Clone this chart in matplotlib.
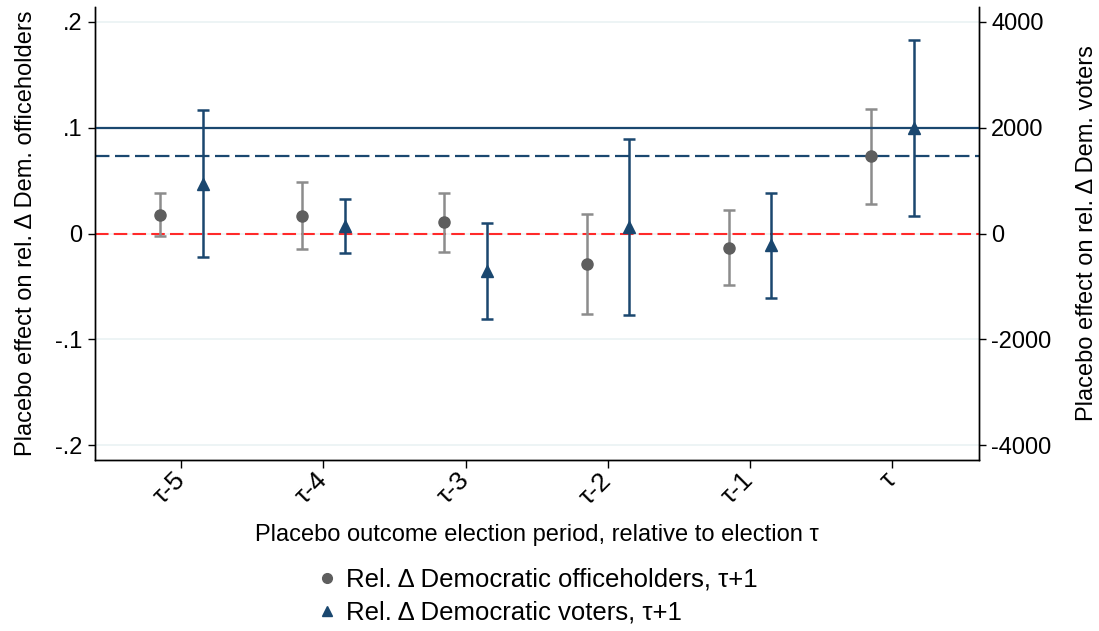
import matplotlib
matplotlib.use("Agg")
import matplotlib.pyplot as plt
from matplotlib.lines import Line2D

plt.rcParams['font.family'] = ['Liberation Sans', 'DejaVu Sans']

categories = ["τ-5", "τ-4", "τ-3", "τ-2", "τ-1", "τ"]
# officeholders (left axis)
off_est = [0.0176, 0.0170, 0.0107, -0.0290, -0.0135, 0.0733]
off_lo = [-0.0020, -0.0151, -0.0173, -0.0761, -0.0487, 0.0283]
off_hi = [0.0380, 0.0488, 0.0387, 0.0182, 0.0224, 0.1179]
# voters (right axis)
vot_est = [940, 150, -700, 119, -226, 2000]
vot_lo = [-453, -377, -1610, -1534, -1213, 326]
vot_hi = [2334, 660, 194, 1787, 768, 3655]

left_ticks = [-0.2, -0.1, 0, 0.1, 0.2]
left_labels = ["-.2", "-.1", "0", ".1", ".2"]
right_ticks = [-4000, -2000, 0, 2000, 4000]

NAVY = "#1a476f"
GRAY_CI = "#8c8c8c"
GRAY_PT = "#5e5e5e"
RED = "#ff2a2a"
GRID = "#eaf2f3"

FS = 17

fig = plt.figure(figsize=(10.99, 6.31), dpi=100)
ax = fig.add_axes([95/1099, 1-460/631, (978.5-95)/1099, (460-7)/631])
ax2 = ax.twinx()

x = list(range(1, len(categories)+1))
off = 0.15
xo = [v - off for v in x]
xv = [v + off for v in x]

ylim = 0.214
ax.set_ylim(-ylim, ylim)
ax2.set_ylim(-ylim*20000, ylim*20000)
ax.set_xlim(0.394, 6.606)

# grid
for t in left_ticks:
    ax.axhline(t, color=GRID, lw=1.2, zorder=0)

# reference lines
ax.axhline(0, color=RED, lw=1.5, ls=(0, (6.5, 2.5)), zorder=1)
ax.axhline(off_est[-1], color=NAVY, lw=1.6, ls=(0, (6.5, 2.5)), zorder=1)
ax2.axhline(vot_est[-1], color=NAVY, lw=1.6, zorder=1)

# officeholders
yerr_o = [[e - l for e, l in zip(off_est, off_lo)], [h - e for e, h in zip(off_est, off_hi)]]
ax.errorbar(xo, off_est, yerr=yerr_o, fmt='none', ecolor=GRAY_CI, elinewidth=1.8,
            capsize=4, capthick=1.8, zorder=2)
ax.plot(xo, off_est, 'o', color=GRAY_PT, ms=8, zorder=3)

# voters
yerr_v = [[e - l for e, l in zip(vot_est, vot_lo)], [h - e for e, h in zip(vot_est, vot_hi)]]
ax2.errorbar(xv, vot_est, yerr=yerr_v, fmt='none', ecolor=NAVY, elinewidth=1.8,
             capsize=4, capthick=1.8, zorder=2)
ax2.plot(xv, vot_est, '^', color=NAVY, ms=9, zorder=3)

# axes styling
for a in (ax, ax2):
    a.spines['top'].set_visible(False)
    for s in ('left', 'right', 'bottom'):
        a.spines[s].set_linewidth(1.0)
        a.spines[s].set_color("#000000")

ax.set_yticks(left_ticks)
ax.set_yticklabels(left_labels)
ax2.set_yticks(right_ticks)
ax2.set_yticklabels([str(t) for t in right_ticks])
ax.set_xticks(x)
ax.set_xticklabels(categories, rotation=45, ha='right', va='center', rotation_mode='anchor')

ax.tick_params(axis='y', direction='out', length=5, width=1, labelsize=FS, pad=4)
ax2.tick_params(axis='y', direction='out', length=5, width=1, labelsize=FS, pad=4)
ax.tick_params(axis='x', direction='out', length=6, width=1, labelsize=19, pad=6)

ax.set_ylabel("Placebo effect on rel. Δ Dem. officeholders", fontsize=FS, labelpad=13)
ax2.set_ylabel("Placebo effect on rel. Δ Dem. voters", fontsize=FS, labelpad=18)
ax.set_xlabel("Placebo outcome election period, relative to election τ", fontsize=FS, labelpad=11)

handles = [
    Line2D([], [], marker='o', color=GRAY_PT, ls='none', ms=7),
    Line2D([], [], marker='^', color=NAVY, ls='none', ms=7),
]
fig.legend(handles, ["Rel. Δ Democratic officeholders, τ+1", "Rel. Δ Democratic voters, τ+1"],
           loc='center left', bbox_to_anchor=(314/1099, 1-596/631), frameon=False,
           fontsize=18.5, handletextpad=0.25, labelspacing=0.35, handlelength=1.0,
           borderaxespad=0, borderpad=0)

fig.savefig("out.png", dpi=100)
